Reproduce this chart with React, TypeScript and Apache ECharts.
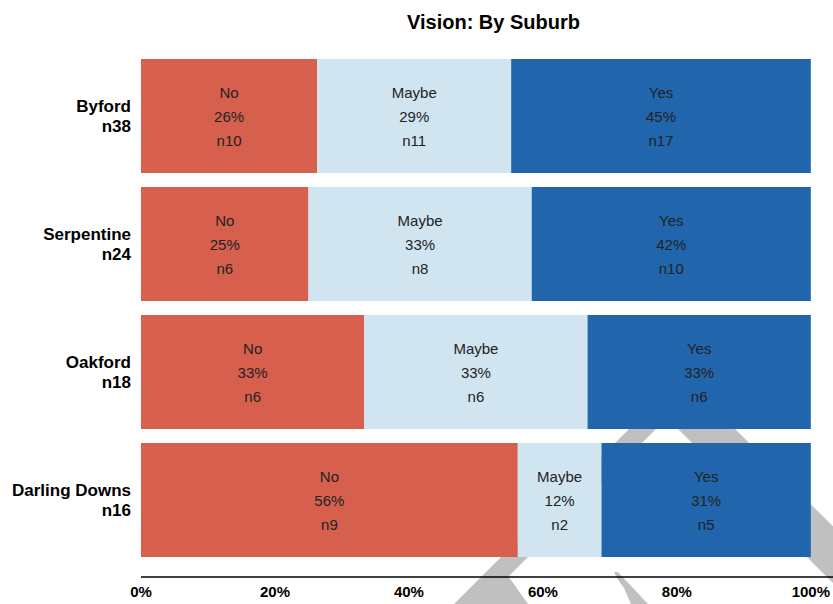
import React, { useEffect, useRef } from "react";
import * as echarts from "echarts";

const suburbs = ["Byford", "Serpentine", "Oakford", "Darling Downs"];
const totals = [38, 24, 18, 16];
const noCounts = [10, 6, 6, 9];
const maybeCounts = [11, 8, 6, 2];
const yesCounts = [17, 10, 6, 5];
const noPct = [26, 25, 33, 56];
const maybePct = [29, 33, 33, 12];
const yesPct = [45, 42, 33, 31];
const xTicks = [0, 20, 40, 60, 80, 100];

const FONT = "'Liberation Sans', Arial, sans-serif";

function share(counts: number[]) {
  return counts.map((c, i) => (c / totals[i]) * 100);
}

function makeSeries(name: string, counts: number[], pct: number[], color: string) {
  return {
    name,
    type: "bar",
    stack: "total",
    barCategoryGap: "11%",
    data: share(counts),
    itemStyle: { color },
    z: 2,
    label: {
      show: true,
      position: "inside",
      color: "#222",
      fontFamily: FONT,
      fontSize: 15,
      lineHeight: 24,
      formatter: (p: any) => `${name}\n${pct[p.dataIndex]}%\nn${counts[p.dataIndex]}`,
    },
  };
}

export default function App() {
  const ref = useRef<HTMLDivElement>(null);
  useEffect(() => {
    document.body.style.margin = "0";
    const chart = echarts.init(ref.current!, null, { renderer: "svg" });
    const gray = "#c0c0c0";
    chart.setOption({
      animation: false,
      backgroundColor: "#fff",
      title: {
        text: "Vision: By Suburb",
        left: 402,
        top: 7,
        textStyle: { fontFamily: FONT, fontSize: 20, fontWeight: "bold", color: "#000" },
      },
      graphic: [
        {
          type: "polygon",
          z: -1,
          shape: {
            points: [
              [682, 376],
              [911, 604],
              [854, 604],
              [667, 418],
              [481, 604],
              [454, 604],
            ],
          },
          style: { fill: gray },
        },
        {
          type: "polygon",
          z: -1,
          shape: { points: [[506, 573], [528, 604], [478, 604]] },
          style: { fill: gray },
        },
        {
          type: "polygon",
          z: -1,
          shape: {
            points: [
              [614, 572],
              [618, 572],
              [648, 604],
              [631, 604],
              [624, 588],
              [617, 578],
            ],
          },
          style: { fill: gray },
        },
        {
          type: "line",
          z: 5,
          shape: { x1: 141, y1: 577, x2: 833, y2: 577 },
          style: { stroke: "#000", lineWidth: 1.5 },
        },
      ],
      grid: { left: 141, right: 22, top: 52, height: 512 },
      xAxis: {
        type: "value",
        min: xTicks[0],
        max: xTicks[xTicks.length - 1],
        interval: 20,
        offset: 13,
        axisLine: { show: false },
        axisTick: { show: false },
        splitLine: { show: false },
        axisLabel: {
          formatter: "{value}%",
          fontFamily: FONT,
          fontSize: 15,
          fontWeight: "bold",
          color: "#000",
          margin: 7,
        },
      },
      yAxis: {
        type: "category",
        inverse: true,
        data: suburbs.map((s, i) => `${s}\nn${totals[i]}`),
        axisLine: { show: false },
        axisTick: { show: false },
        axisLabel: {
          fontFamily: FONT,
          fontSize: 17,
          fontWeight: "bold",
          color: "#000",
          lineHeight: 20,
          align: "right",
          margin: 10,
        },
      },
      series: [
        makeSeries("No", noCounts, noPct, "#d6604d"),
        makeSeries("Maybe", maybeCounts, maybePct, "#d1e5f0"),
        makeSeries("Yes", yesCounts, yesPct, "#2166ac"),
      ],
    });
    return () => chart.dispose();
  }, []);
  return <div ref={ref} style={{ width: 833, height: 604 }} />;
}
